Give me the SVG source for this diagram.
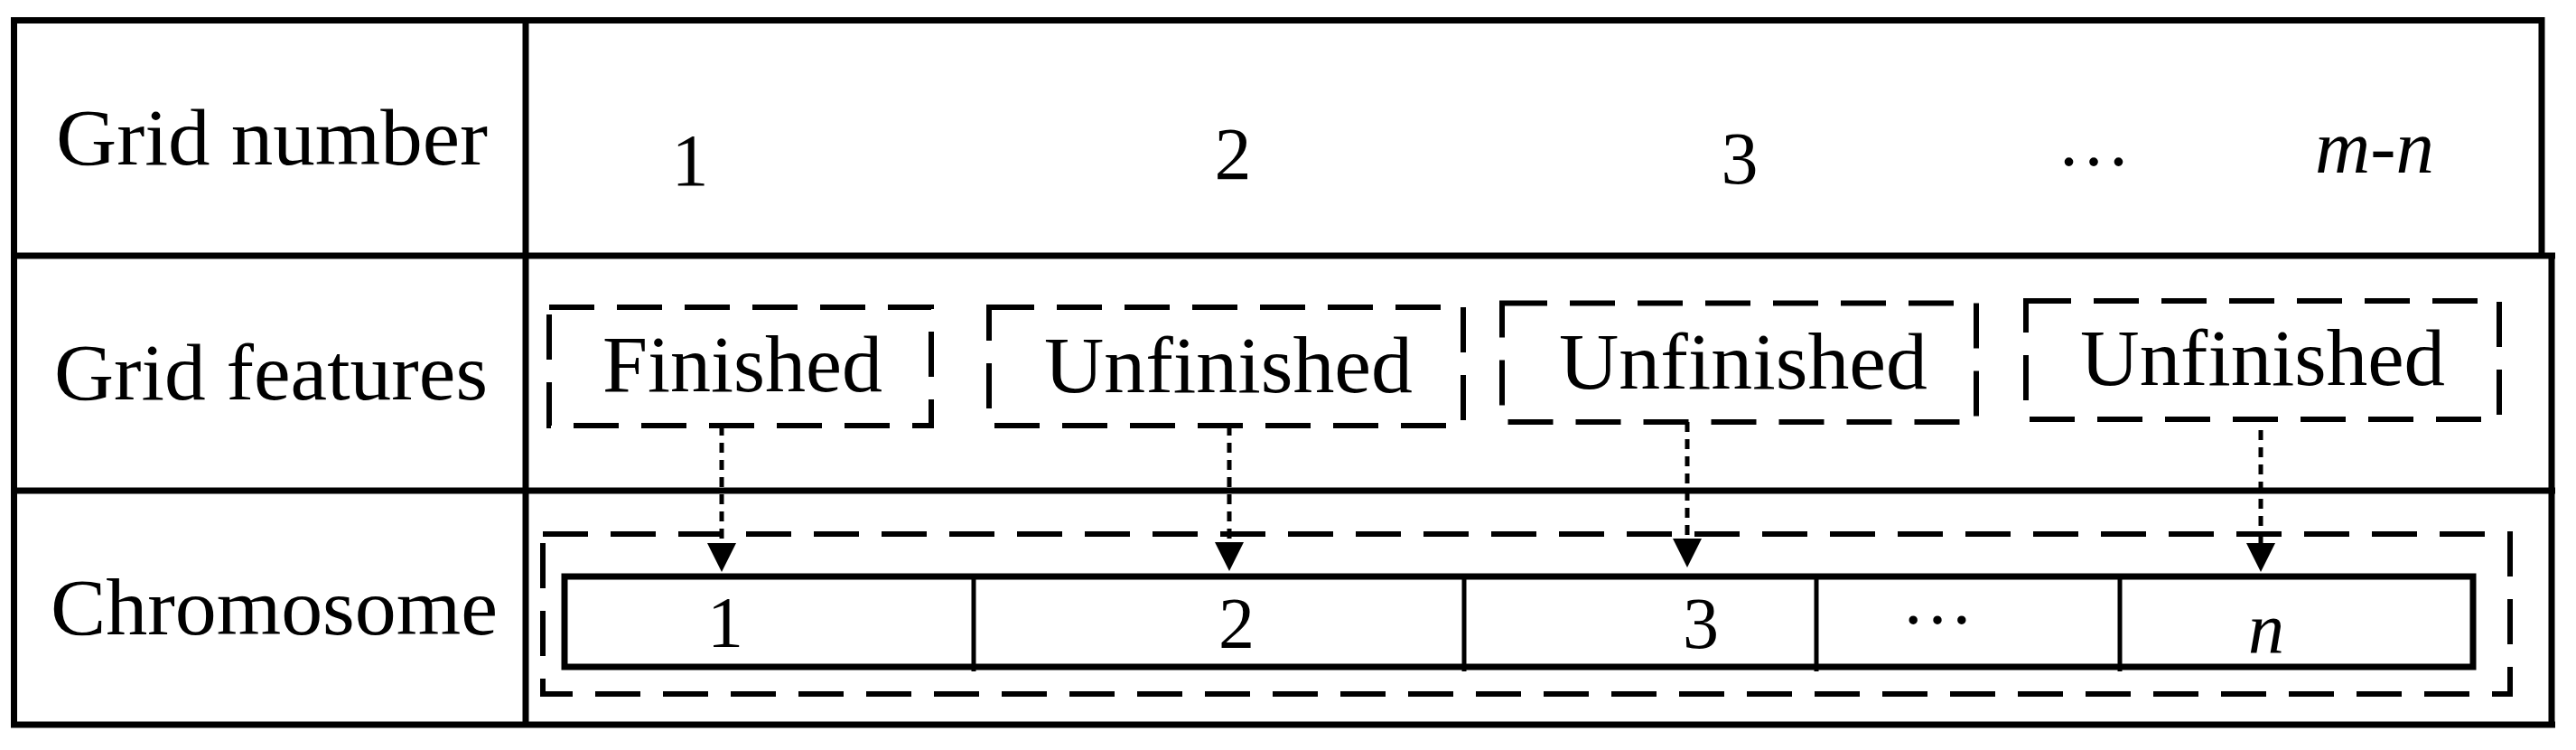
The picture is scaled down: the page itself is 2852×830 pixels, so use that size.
<svg xmlns="http://www.w3.org/2000/svg" width="2852" height="830" viewBox="0 0 2852 830">
<style>
text{font-family:"Liberation Serif","Times New Roman",serif;fill:#000}
.lbl{font-size:88px}
.num{font-size:82px;text-anchor:middle}
.it{font-style:italic}
.tbl{stroke:#000;stroke-width:7;fill:none}
.dbox{stroke:#000;stroke-width:6;fill:none;stroke-dasharray:50 25}
.cell{stroke:#000;stroke-width:5;fill:none}
.arr{stroke:#000;stroke-width:5;fill:none;stroke-dasharray:11 8}
</style>
<defs>
<marker id="ah" markerUnits="userSpaceOnUse" viewBox="0 0 32 32" markerWidth="32" markerHeight="32" refX="0" refY="16" orient="auto">
<path d="M0,0 L32,16 L0,32 z" fill="#000"/>
</marker>
</defs>
<rect width="2852" height="830" fill="#fff"/>
<g id="table">
<path class="tbl" d="M12,22.5 H2814 M2814,19 V283 M15.5,19 V805.5 M12,802 H2829 M2825,279.5 V805.5 M12,283 H2829 M12,543 H2829 M582,19 V805.5"/>
</g>
<g id="row-labels">
<text class="lbl" x="62" y="182" textLength="478" lengthAdjust="spacingAndGlyphs">Grid number</text>
<text class="lbl" x="60" y="442" textLength="480" lengthAdjust="spacingAndGlyphs">Grid features</text>
<text class="lbl" x="56" y="702" textLength="495" lengthAdjust="spacingAndGlyphs">Chromosome</text>
</g>
<g id="grid-numbers">
<text class="num" x="764" y="205">1</text>
<text class="num" x="1365" y="198">2</text>
<text class="num" x="1926" y="203">3</text>
<text class="num" x="2318" y="183">…</text>
<text class="num it" x="2629" y="191" style="font-size:84px" textLength="132" lengthAdjust="spacingAndGlyphs">m-n</text>
</g>
<g id="feature-1">
<rect class="dbox" x="608" y="340" width="423" height="131"/>
<text class="lbl" x="667" y="433" textLength="310" lengthAdjust="spacingAndGlyphs">Finished</text>
</g>
<g id="feature-2">
<rect class="dbox" x="1095" y="340" width="525" height="131"/>
<text class="lbl" x="1156" y="434" textLength="408" lengthAdjust="spacingAndGlyphs">Unfinished</text>
</g>
<g id="feature-3">
<rect class="dbox" x="1663" y="335.5" width="525" height="131.5"/>
<text class="lbl" x="1726" y="430" textLength="408" lengthAdjust="spacingAndGlyphs">Unfinished</text>
</g>
<g id="feature-4">
<rect class="dbox" x="2243" y="333" width="524" height="131"/>
<text class="lbl" x="2303" y="426" textLength="404" lengthAdjust="spacingAndGlyphs">Unfinished</text>
</g>
<g id="chromosome">
<rect class="dbox" x="601" y="591" width="2178" height="177"/>
<rect class="tbl" x="625" y="638" width="2113" height="100"/>
<path class="cell" d="M1078,638 V743 M1621,638 V743 M2011,638 V743 M2347,638 V743"/>
<text class="num" x="803" y="716" style="font-size:80px">1</text>
<text class="num" x="1369" y="717" style="font-size:80px">2</text>
<text class="num" x="1883" y="717" style="font-size:80px">3</text>
<text class="num" x="2145" y="690" style="font-size:80px">…</text>
<text class="num it" x="2509" y="722" style="font-size:80px">n</text>
</g>
<g id="connectors">
<path class="arr" d="M799,471 V601" marker-end="url(#ah)"/>
<path class="arr" d="M1361,471 V600" marker-end="url(#ah)"/>
<path class="arr" d="M1868,467 V596" marker-end="url(#ah)"/>
<path class="arr" d="M2503,476 V601" marker-end="url(#ah)"/>
</g>
</svg>
